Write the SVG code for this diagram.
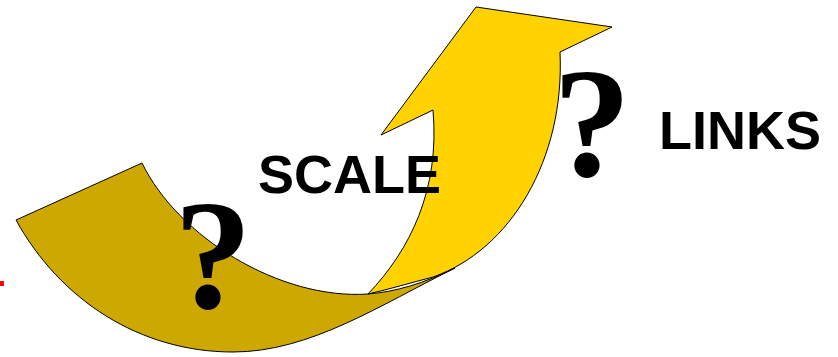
<svg xmlns="http://www.w3.org/2000/svg" width="838" height="357" viewBox="0 0 838 357">
<style>
.shape{stroke:#000;stroke-width:1;stroke-linejoin:miter}
.q{font-family:"Liberation Serif","Times New Roman",serif;font-weight:bold;font-size:156px;fill:#000}
.lbl{font-family:"Liberation Sans",Arial,sans-serif;font-weight:bold;font-size:54px;fill:#000}
</style>
<rect width="838" height="357" fill="#fff"/>
<g id="back-band">
<path class="shape" fill="#CCA800" d="M16,220 L142,163 C178,237 280,300 368,294 C395,292 425,283 455,268 C380,305 310,352 233,352 C140,352 60,300 16,220 Z"/>
</g>
<g id="front-arrow">
<path class="shape" fill="#FFD200" d="M368,294 C410,250 440,190 433,110 L381,135 L476,7 L612,27 L560,52 C565,160 510,250 433,277 C410,283 390,289 368,294 Z"/>
</g>
<g id="marker">
<rect x="0" y="281" width="4" height="5" fill="#FF0000"/>
</g>
<g id="q-left"><text class="q" x="174" y="308">?</text></g>
<g id="q-right"><text class="q" x="553" y="176">?</text></g>
<g id="scale"><text class="lbl" x="258" y="193">SCALE</text></g>
<g id="links"><text class="lbl" x="659" y="149">LINKS</text></g>
<g id="connectors"></g>
</svg>
